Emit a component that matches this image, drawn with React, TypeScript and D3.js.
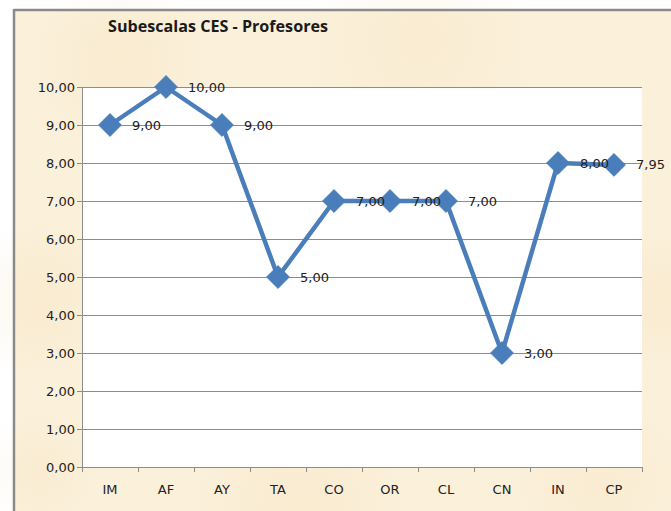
import React from "react";
import * as d3 from "d3";

const categories = ["IM", "AF", "AY", "TA", "CO", "OR", "CL", "CN", "IN", "CP"];
const values = [9, 10, 9, 5, 7, 7, 7, 3, 8, 7.95];
const yTicks = [0, 1, 2, 3, 4, 5, 6, 7, 8, 9, 10];
const title = "Subescalas CES - Profesores";

const W = 671;
const H = 511;
const plot = { left: 82, right: 642, top: 87, bottom: 467 };
const fmt = (v: number) => v.toFixed(2).replace(".", ",");
const FONT = "'DejaVu Sans', sans-serif";

const blotches = [
  { cx: 120, cy: 60, r: 90, o: 0.25 },
  { cx: 420, cy: 40, r: 120, o: 0.2 },
  { cx: 40, cy: 300, r: 80, o: 0.25 },
  { cx: 660, cy: 300, r: 70, o: 0.25 },
  { cx: 300, cy: 505, r: 110, o: 0.25 },
  { cx: 600, cy: 480, r: 90, o: 0.2 },
  { cx: 40, cy: 470, r: 60, o: 0.2 },
];

export default function App() {
  const x = d3
    .scaleBand<string>()
    .domain(categories)
    .range([plot.left, plot.right])
    .padding(0);
  const y = d3.scaleLinear().domain([0, 10]).range([plot.bottom, plot.top]);
  const cx = (c: string) => (x(c) as number) + x.bandwidth() / 2;
  const line = d3
    .line<number>()
    .x((_, i) => cx(categories[i]))
    .y((d) => y(d));
  const diamond = d3.symbol().type(d3.symbolDiamond2).size(330)();
  const bounds = categories.map((c) => x(c) as number).concat([plot.right]);

  return (
    <svg
      width={W}
      height={H}
      style={{ position: "absolute", left: 0, top: 0, display: "block" }}
    >
      <defs>
        <radialGradient id="blot">
          <stop offset="0%" stopColor="#f2dcb2" stopOpacity={1} />
          <stop offset="100%" stopColor="#f2dcb2" stopOpacity={0} />
        </radialGradient>
      </defs>
      <rect x={0} y={0} width={W} height={H} fill="#ffffff" />
      <rect x={14} y={10} width={W - 14} height={H - 10} fill="#fbf0da" />
      {blotches.map((b, i) => (
        <circle
          key={i}
          cx={b.cx}
          cy={b.cy}
          r={b.r}
          fill="url(#blot)"
          opacity={b.o}
        />
      ))}
      <line x1={14} y1={10} x2={W} y2={10} stroke="#8a8a8a" strokeWidth={2.5} />
      <line x1={14} y1={9} x2={14} y2={H} stroke="#8a8a8a" strokeWidth={2.5} />

      <text
        x={108}
        y={32}
        fontFamily="'Open Sans', sans-serif"
        fontWeight="bold"
        fontSize={16}
        fill="#1a1a1a"
        textLength={220}
        lengthAdjust="spacingAndGlyphs"
      >
        {title}
      </text>

      <rect
        x={plot.left}
        y={plot.top}
        width={plot.right - plot.left}
        height={plot.bottom - plot.top}
        fill="#ffffff"
      />
      {yTicks.map((t) => (
        <g key={t}>
          <line
            x1={plot.left - 5}
            x2={plot.right}
            y1={y(t) + 0.5}
            y2={y(t) + 0.5}
            stroke="#8c8c8c"
            strokeWidth={1}
          />
          <text
            x={plot.left - 7}
            y={y(t)}
            dy="0.35em"
            textAnchor="end"
            fontFamily={FONT}
            fontSize={13}
            fill="#222"
          >
            {fmt(t)}
          </text>
        </g>
      ))}
      <line
        x1={plot.left + 0.5}
        x2={plot.left + 0.5}
        y1={plot.top}
        y2={plot.bottom}
        stroke="#8c8c8c"
      />
      {bounds.map((b, i) => (
        <line
          key={i}
          x1={b + 0.5}
          x2={b + 0.5}
          y1={plot.bottom}
          y2={plot.bottom + 5}
          stroke="#8c8c8c"
        />
      ))}
      {categories.map((c) => (
        <text
          key={c}
          x={cx(c)}
          y={plot.bottom + 22}
          dy="0.35em"
          textAnchor="middle"
          fontFamily={FONT}
          fontSize={13}
          fill="#222"
        >
          {c}
        </text>
      ))}

      <path
        d={line(values) || ""}
        fill="none"
        stroke="#4a7ebb"
        strokeWidth={4.5}
        strokeLinejoin="round"
      />
      {values.map((v, i) => (
        <path
          key={i}
          d={diamond || ""}
          transform={`translate(${cx(categories[i])},${y(v)})`}
          fill="#4a7ebb"
          stroke="#4a7ebb"
          strokeWidth={1}
        />
      ))}
      {values.map((v, i) => (
        <text
          key={i}
          x={cx(categories[i]) + 22}
          y={y(v)}
          dy="0.35em"
          fontFamily={FONT}
          fontSize={13}
          fill="#222"
        >
          {fmt(v)}
        </text>
      ))}
    </svg>
  );
}
